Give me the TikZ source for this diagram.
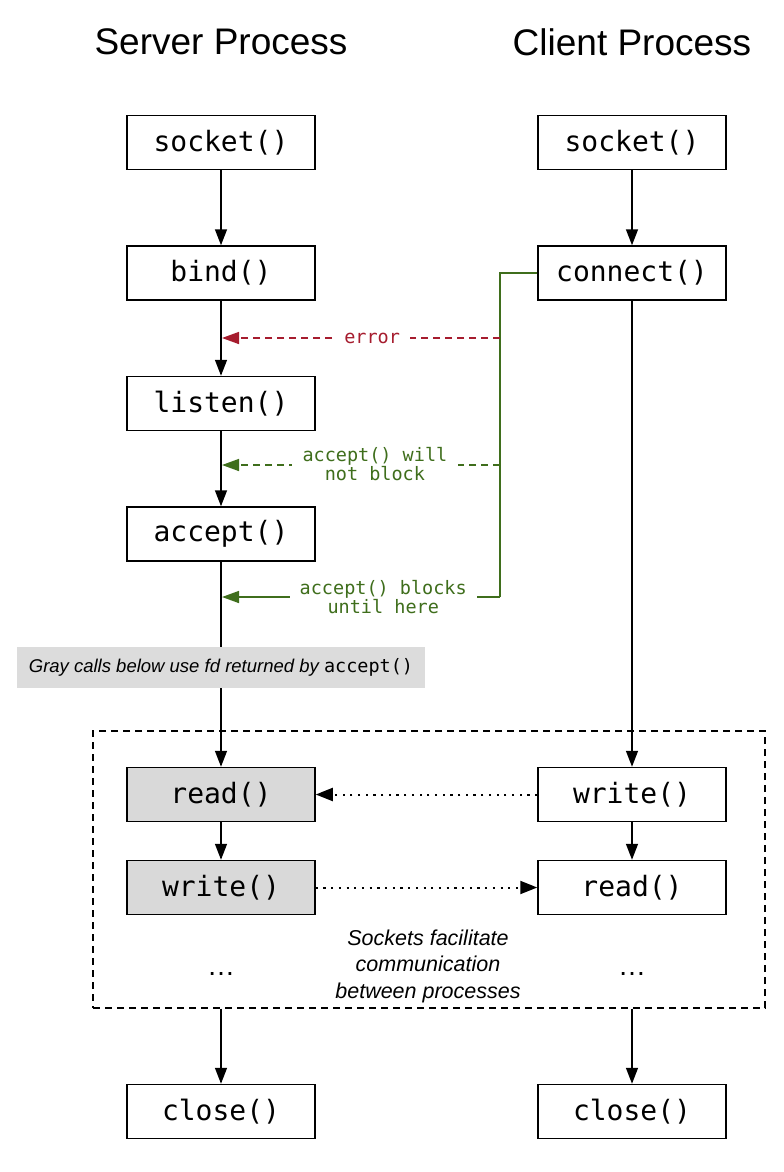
\documentclass[tikz,border=0pt]{standalone}
\usepackage{fontspec}
\setmainfont{Liberation Sans}
\newfontfamily\codefont{DejaVu Sans Mono}
\usetikzlibrary{arrows.meta}
\definecolor{errred}{HTML}{A61C2E}
\definecolor{okgreen}{HTML}{3F6E1C}
\definecolor{callgray}{HTML}{D9D9D9}
\definecolor{notegray}{HTML}{DCDCDC}
\begin{document}
\begin{tikzpicture}[x=1pt,y=-1pt,
  callbox/.style={draw=black, line width=1.5pt, fill=white, minimum width=188pt, minimum height=54pt, inner sep=0pt, font=\codefont\fontsize{28}{30}\selectfont},
  graycall/.style={callbox, fill=callgray},
  title/.style={font=\fontsize{37}{40}\selectfont},
  flow/.style={line width=1.5pt, -{Triangle[length=16pt,width=12pt]}},
  msg/.style={line width=2pt, dash pattern=on 2.2pt off 5.5pt, -{Triangle[length=17pt,width=13pt]}},
  errline/.style={draw=errred, line width=1.5pt, dash pattern=on 7pt off 5pt, -{Triangle[length=17pt,width=12pt,fill=errred]}},
  okdash/.style={draw=okgreen, line width=1.5pt, dash pattern=on 7pt off 5pt, -{Triangle[length=17pt,width=12pt,fill=okgreen]}},
  oksolid/.style={draw=okgreen, line width=1.5pt, -{Triangle[length=17pt,width=12pt,fill=okgreen]}},
  okplain/.style={draw=okgreen, line width=1.6pt},
  lbl/.style={fill=white, inner xsep=11pt, inner ysep=1pt, align=center, font=\codefont\fontsize{18.5}{19.5}\selectfont},
  regionbox/.style={draw=black, line width=1.3pt, dash pattern=on 7pt off 5pt, minimum width=672pt, minimum height=277pt, inner sep=0pt},
  note/.style={fill=notegray, minimum width=408pt, minimum height=41pt, inner sep=0pt, font=\itshape\fontsize{18.5}{20}\selectfont},
  dots/.style={font=\fontsize{28}{30}\selectfont}
]
\useasboundingbox (0,0) rectangle (784,1172);

% titles
\node[title] (tserver) at (221,42) {Server Process};
\node[title] (tclient) at (632,42) {Client Process};

% server calls
\node[callbox] (ssocket) at (221,142.5) {socket()};
\node[callbox] (sbind)   at (221,273) {bind()};
\node[callbox] (slisten) at (221,403.5) {listen()};
\node[callbox] (saccept) at (221,534) {accept()};
\node[graycall] (sread)  at (221,794.5) {read()};
\node[graycall] (swrite) at (221,887.5) {write()};
\node[callbox] (sclose)  at (221,1111.5) {close()};

% client calls
\node[callbox] (csocket)  at (632,142.5) {socket()};
\node[callbox] (cconnect) at (632,273) {connect()};
\node[callbox] (cwrite)   at (632,794.5) {write()};
\node[callbox] (cread)    at (632,887.5) {read()};
\node[callbox] (cclose)   at (632,1111.5) {close()};

% region
\node[regionbox] (region) at (429,869.5) {};
\node[align=center, font=\itshape\fontsize{21.5}{26.5}\selectfont] (regiontext) at (428,966) {Sockets facilitate\\communication\\between processes};
\node[dots] (sdots) at (221,974) {…};
\node[dots] (cdots) at (632,974) {…};

% server flow
\draw[flow] (ssocket) -- (sbind);
\draw[flow] (sbind) -- (slisten);
\draw[flow] (slisten) -- (saccept);
\draw[flow] (saccept) -- (sread);
\draw[flow] (sread) -- (swrite);
\draw[flow] (region.south -| sclose.north) -- (sclose);

% client flow
\draw[flow] (csocket) -- (cconnect);
\draw[flow] (cconnect) -- (cwrite);
\draw[flow] (cwrite) -- (cread);
\draw[flow] (region.south -| cclose.north) -- (cclose);

% data exchange
\draw[msg] (cwrite) -- (sread);
\draw[msg] (swrite) -- (cread);

% connect feedback
\coordinate (jerr) at (500,338);
\coordinate (jok) at (500,465);
\coordinate (jblk) at (500,597);
\coordinate (aerr) at (222,338);
\coordinate (aok) at (222,465);
\coordinate (ablk) at (222,597);
\draw[okplain] (cconnect.west) -| (jblk);
\draw[errline] (jerr) -- node[lbl, pos=0.46, text=errred, inner xsep=10pt] (lerr) {error} (aerr);
\draw[okdash] (jok) -- node[lbl, pos=0.45, text=okgreen, yshift=1pt] (lok) {accept() will\\not block} (aok);
\draw[oksolid] (jblk) -- node[lbl, pos=0.42, text=okgreen, inner xsep=10pt] (lblk) {accept() blocks\\until here} (ablk);

% note
\node[note] (gnote) at (221,667.5) {Gray calls below use fd returned by {\upshape\codefont accept()}};
\end{tikzpicture}
\end{document}
